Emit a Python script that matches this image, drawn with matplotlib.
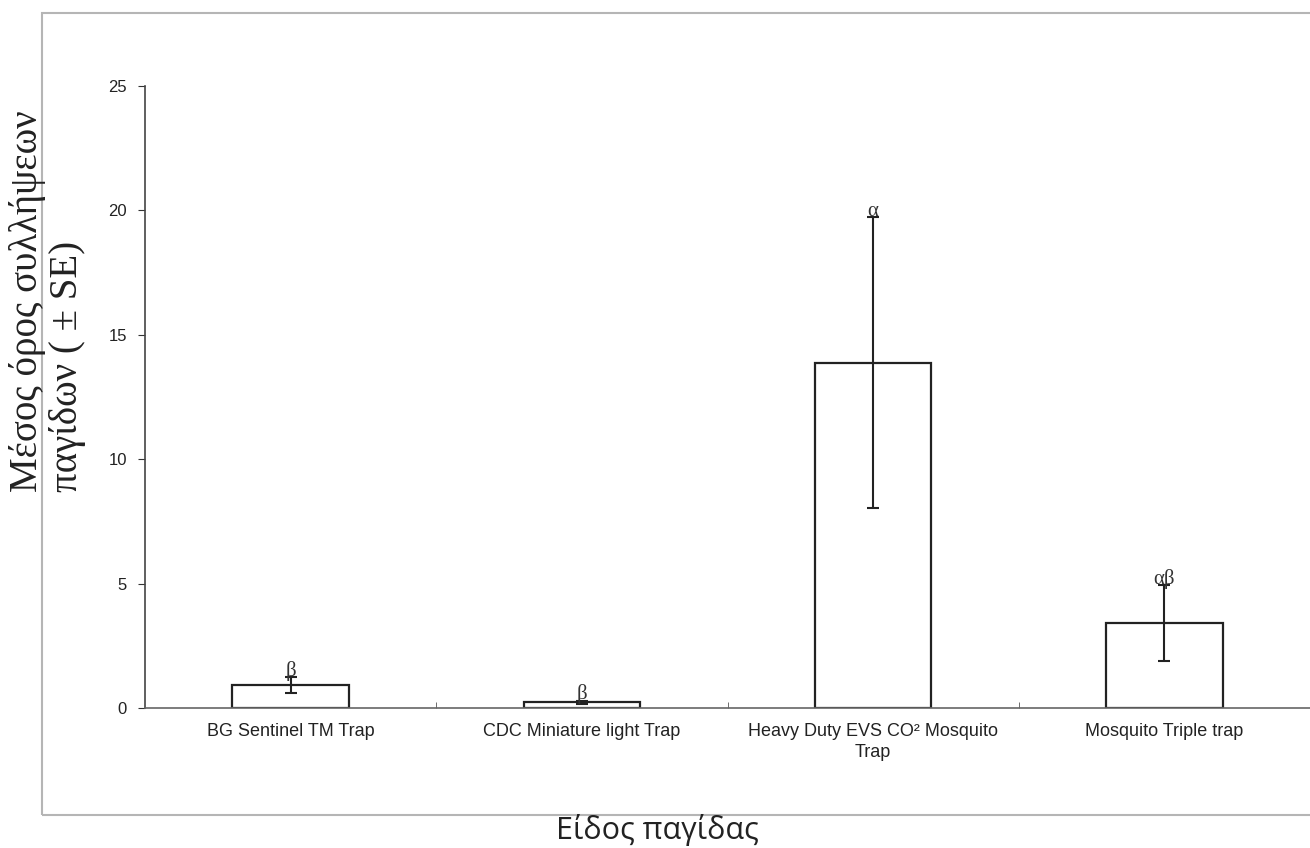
import matplotlib
matplotlib.use("Agg")
import matplotlib.pyplot as plt
from matplotlib.patches import Rectangle

traps = ["BG Sentinel TM Trap", "CDC Miniature light Trap",
         "Heavy Duty EVS CO² Mosquito\nTrap", "Mosquito Triple trap"]
means = [0.92, 0.24, 13.87, 3.42]
se = [0.33, 0.06, 5.85, 1.53]
letters = ["β", "β", "α", "αβ"]
yticks = [0, 5, 10, 15, 20, 25]

fig = plt.figure(figsize=(13.1, 8.48), dpi=100)
ax = fig.add_axes([0.1107, 0.1651, 0.8893, 0.7335])

# outer chart frame
fig.patches.append(Rectangle((0.032, 0.039), 1.0, 0.9457, transform=fig.transFigure,
                             fill=False, edgecolor="#b5b5b5", linewidth=1.5))

x = list(range(len(traps)))
ax.bar(x, means, width=0.4, color="white", edgecolor="#222222", linewidth=1.6, zorder=2)
ax.errorbar(x, means, yerr=se, fmt="none", ecolor="#222222", elinewidth=1.5,
            capsize=4, capthick=1.5, zorder=3)

for xi, m, s, lab in zip(x, means, se, letters):
    ax.text(xi, m + s - 0.15, lab, ha="center", va="bottom", fontsize=15,
            family="Liberation Serif", color="#333333", zorder=4)

ax.set_xlim(-0.5, 3.5)
ax.set_ylim(0, 25)
ax.set_yticks(yticks)
ax.set_xticks(x)
ax.set_xticklabels(traps, fontsize=13, family="Liberation Sans", color="#222222",
                   linespacing=1.25)
ax.tick_params(axis="x", length=0, pad=11)
ax.set_xticks([0.5, 1.5, 2.5], minor=True)
ax.tick_params(axis="x", which="minor", length=4, direction="in", color="#555555")
ax.tick_params(axis="y", length=5, direction="out", labelsize=12, pad=8,
               color="#333333", labelcolor="#222222")
for lbl in ax.get_yticklabels():
    lbl.set_family("Liberation Sans")

for side in ["top", "right"]:
    ax.spines[side].set_visible(False)
ax.spines["left"].set_color("#444444")
ax.spines["bottom"].set_color("#666666")
ax.spines["left"].set_linewidth(1.2)
ax.spines["bottom"].set_linewidth(1.2)

fig.text(0.036, 0.42, "Μέσος όρος συλλήψεων\nπαγίδων ( ± SE)", rotation=90,
         ha="left", va="center", rotation_mode="anchor", fontsize=28,
         family="Liberation Serif", color="#222222", linespacing=1.1,
         multialignment="left")
fig.text(0.502, 0.021, "Είδος παγίδας", ha="center", va="center", fontsize=22,
         family="Open Sans", color="#222222")

fig.savefig("out.png", dpi=100, facecolor="white")
